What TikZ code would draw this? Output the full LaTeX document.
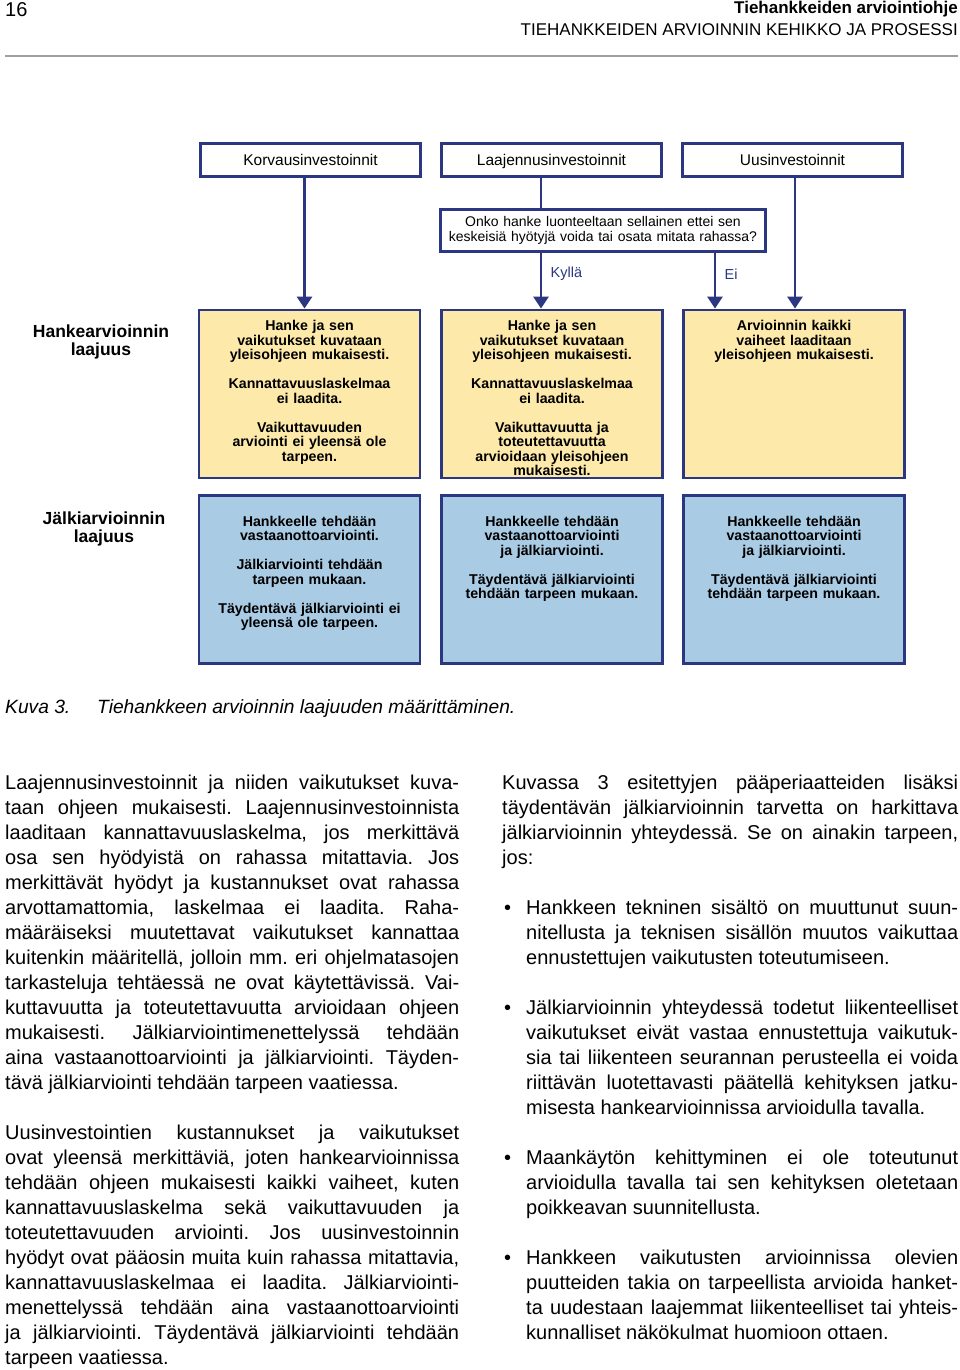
\documentclass[tikz,border=0pt]{standalone}
\usepackage{fontspec}
\setmainfont{Liberation Sans}
\usetikzlibrary{positioning,arrows.meta}
\definecolor{navy}{RGB}{43,55,128}
\definecolor{paleyellow}{RGB}{253,233,170}
\definecolor{paleblue}{RGB}{169,203,228}
\hyphenpenalty=10000
\tolerance=10000
\frenchspacing

\begin{document}
\begin{tikzpicture}[x=1pt,y=-1pt,
        typebox/.style={draw=navy,line width=2.8pt,fill=white,minimum width=220pt,minimum height=33pt,inner sep=0pt,text height=11pt,text depth=1pt,font=\fontsize{15.5}{16}\selectfont},
        scopebox/.style={draw=navy,line width=2.8pt,minimum width=221pt,minimum height=168pt,inner sep=0pt},
        boxtext/.style={text width=214pt,align=center,inner sep=0pt,anchor=base,font=\bfseries\fontsize{14.2}{14.5}\selectfont},
        rowlabel/.style={text width=160pt,align=center,inner sep=0pt,anchor=base,font=\bfseries\fontsize{17.5}{18}\selectfont},
        bodytext/.style={align=justify,inner sep=0pt,anchor=base west,font=\fontsize{20}{25}\selectfont},
        flow/.style={-{Triangle[width=15pt,length=12pt]},line width=2.8pt,navy},
        link/.style={line width=2.8pt,navy}]
        \path[fill=white,use as bounding box] (0,0) rectangle (960,1370);
        % page header
        \node[anchor=base west,inner sep=0pt,font=\fontsize{20}{24}\selectfont] (pageno) at (5,17) {16};
        \node[anchor=base east,inner sep=0pt,font=\bfseries\fontsize{17}{20}\selectfont] (booktitle) at (958,14) {Tiehankkeiden arviointiohje};
        \node[anchor=base east,inner sep=0pt,font=\fontsize{17}{20}\selectfont] (chapter) at (958,36) {TIEHANKKEIDEN ARVIOINNIN KEHIKKO JA PROSESSI};
        \coordinate (ruleL) at (5,56);
        \coordinate (ruleR) at (958,56);
        \draw[gray!75,line width=1.3pt] (ruleL) -- (ruleR);

        % investment types and question
        \node[typebox] (k1) at (310.5,160) {Korvausinvestoinnit};
        \node[typebox] (k2) at (551.5,160) {Laajennusinvestoinnit};
        \node[typebox] (k3) at (792.5,160) {Uusinvestoinnit};
        \node[typebox,minimum width=325pt,minimum height=42pt,text width=320pt,text height=,text depth=,align=center,font=\fontsize{14}{14.5}\selectfont] (q) at (603,230.5)
            {Onko hanke luonteeltaan sellainen ettei sen\\keskeisiä hyötyjä voida tai osata mitata rahassa?};

        % scope of the project appraisal
        \node[scopebox,fill=paleyellow] (y1) at (309.5,394) {};
        \node[scopebox,fill=paleyellow] (y2) at (552,394) {};
        \node[scopebox,fill=paleyellow] (y3) at (794,394) {};
        \node[boxtext] (y1txt) at ([yshift=-22pt]y1.north) {Hanke ja sen\\vaikutukset kuvataan\\yleisohjeen mukaisesti.\\[14.5pt]Kannattavuuslaskelmaa\\ei laadita.\\[14.5pt]Vaikuttavuuden\\arviointi ei yleensä ole\\tarpeen.};
        \node[boxtext] (y2txt) at ([yshift=-22pt]y2.north) {Hanke ja sen\\vaikutukset kuvataan\\yleisohjeen mukaisesti.\\[14.5pt]Kannattavuuslaskelmaa\\ei laadita.\\[14.5pt]Vaikuttavuutta ja\\toteutettavuutta\\arvioidaan yleisohjeen\\mukaisesti.};
        \node[boxtext] (y3txt) at ([yshift=-22pt]y3.north) {Arvioinnin kaikki\\vaiheet laaditaan\\yleisohjeen mukaisesti.};

        % scope of the follow-up appraisal
        \node[scopebox,fill=paleblue] (b1) at (309.5,579.5) {};
        \node[scopebox,fill=paleblue] (b2) at (552,579.5) {};
        \node[scopebox,fill=paleblue] (b3) at (794,579.5) {};
        \node[boxtext] (b1txt) at ([yshift=-32pt]b1.north) {Hankkeelle tehdään\\vastaanottoarviointi.\\[14.5pt]Jälkiarviointi tehdään\\tarpeen mukaan.\\[14.5pt]Täydentävä jälkiarviointi ei\\yleensä ole tarpeen.};
        \node[boxtext] (b2txt) at ([yshift=-32pt]b2.north) {Hankkeelle tehdään\\vastaanottoarviointi\\ja jälkiarviointi.\\[14.5pt]Täydentävä jälkiarviointi\\tehdään tarpeen mukaan.};
        \node[boxtext] (b3txt) at ([yshift=-32pt]b3.north) {Hankkeelle tehdään\\vastaanottoarviointi\\ja jälkiarviointi.\\[14.5pt]Täydentävä jälkiarviointi\\tehdään tarpeen mukaan.};

        \node[rowlabel] (hlabel) at (101,337) {Hankearvioinnin\\laajuus};
        \node[rowlabel] (jlabel) at (104,524) {Jälkiarvioinnin\\laajuus};

        % connectors
        \draw[flow] ([xshift=-6pt]k1.south) -- ([xshift=-6pt]k1.south |- y1.north);
        \draw[link] ([xshift=-10.5pt]k2.south) -- ([xshift=-10.5pt]k2.south |- q.north);
        \draw[flow] ([xshift=-62pt]q.south) -- node[pos=0.38,right=5pt,font=\fontsize{14.5}{16}\selectfont]{Kyllä} ([xshift=-62pt]q.south |- y2.north);
        \draw[flow] ([xshift=112pt]q.south) -- node[pos=0.38,right=5pt,font=\fontsize{14.5}{16}\selectfont]{Ei} ([xshift=112pt]q.south |- y3.north);
        \draw[flow] ([xshift=2.5pt]k3.south) -- ([xshift=2.5pt]k3.south |- y3.north);

        % caption
        \node[anchor=base west,inner sep=0pt,font=\itshape\fontsize{19.2}{22}\selectfont] (capno) at (5,713) {Kuva 3.};
        \node[anchor=base west,inner sep=0pt,font=\itshape\fontsize{19.2}{22}\selectfont] (captext) at (97,713) {Tiehankkeen arvioinnin laajuuden määrittäminen.};

        % left column
        \node[bodytext,text width=454pt] (par1) at (5,789) {Laajennusinvestoinnit ja niiden vaikutukset kuva-\linebreak
            taan ohjeen mukaisesti. Laajennusinvestoinnista\linebreak
            laaditaan kannattavuuslaskelma, jos merkittävä\linebreak
            osa sen hyödyistä on rahassa mitattavia. Jos\linebreak
            merkittävät hyödyt ja kustannukset ovat rahassa\linebreak
            arvottamattomia, laskelmaa ei laadita. Raha-\linebreak
            määräiseksi muutettavat vaikutukset kannattaa\linebreak
            kuitenkin määritellä, jolloin mm. eri ohjelmatasojen\linebreak
            tarkasteluja tehtäessä ne ovat käytettävissä. Vai-\linebreak
            kuttavuutta ja toteutettavuutta arvioidaan ohjeen\linebreak
            mukaisesti. Jälkiarviointimenettelyssä tehdään\linebreak
            aina vastaanottoarviointi ja jälkiarviointi. Täyden-\linebreak
            tävä jälkiarviointi tehdään tarpeen vaatiessa.};
        \node[bodytext,text width=454pt] (par2) at (5,1139) {Uusinvestointien kustannukset ja vaikutukset\linebreak
            ovat yleensä merkittäviä, joten hankearvioinnissa\linebreak
            tehdään ohjeen mukaisesti kaikki vaiheet, kuten\linebreak
            kannattavuuslaskelma sekä vaikuttavuuden ja\linebreak
            toteutettavuuden arviointi. Jos uusinvestoinnin\linebreak
            hyödyt ovat pääosin muita kuin rahassa mitattavia,\linebreak
            kannattavuuslaskelmaa ei laadita. Jälkiarviointi-\linebreak
            menettelyssä tehdään aina vastaanottoarviointi\linebreak
            ja jälkiarviointi. Täydentävä jälkiarviointi tehdään\linebreak
            tarpeen vaatiessa.};

        % right column
        \node[bodytext,text width=456pt] (par3) at (502,789) {Kuvassa 3 esitettyjen pääperiaatteiden lisäksi\linebreak
            täydentävän jälkiarvioinnin tarvetta on harkittava\linebreak
            jälkiarvioinnin yhteydessä. Se on ainakin tarpeen,\linebreak
            jos:};
        \foreach \n/\y in {1/914,2/1014,3/1164,4/1264}
            \node[bodytext] (dot\n) at (504,\y) {•};
        \node[bodytext,text width=432pt] (item1) at (526,914) {Hankkeen tekninen sisältö on muuttunut suun-\linebreak
            nitellusta ja teknisen sisällön muutos vaikuttaa\linebreak
            ennustettujen vaikutusten toteutumiseen.};
        \node[bodytext,text width=432pt] (item2) at (526,1014) {Jälkiarvioinnin yhteydessä todetut liikenteelliset\linebreak
            vaikutukset eivät vastaa ennustettuja vaikutuk-\linebreak
            sia tai liikenteen seurannan perusteella ei voida\linebreak
            riittävän luotettavasti päätellä kehityksen jatku-\linebreak
            misesta hankearvioinnissa arvioidulla tavalla.};
        \node[bodytext,text width=432pt] (item3) at (526,1164) {Maankäytön kehittyminen ei ole toteutunut\linebreak
            arvioidulla tavalla tai sen kehityksen oletetaan\linebreak
            poikkeavan suunnitellusta.};
        \node[bodytext,text width=432pt] (item4) at (526,1264) {Hankkeen vaikutusten arvioinnissa olevien\linebreak
            puutteiden takia on tarpeellista arvioida hanket-\linebreak
            ta uudestaan laajemmat liikenteelliset tai yhteis-\linebreak
            kunnalliset näkökulmat huomioon ottaen.};
    \end{tikzpicture}
\end{document}
